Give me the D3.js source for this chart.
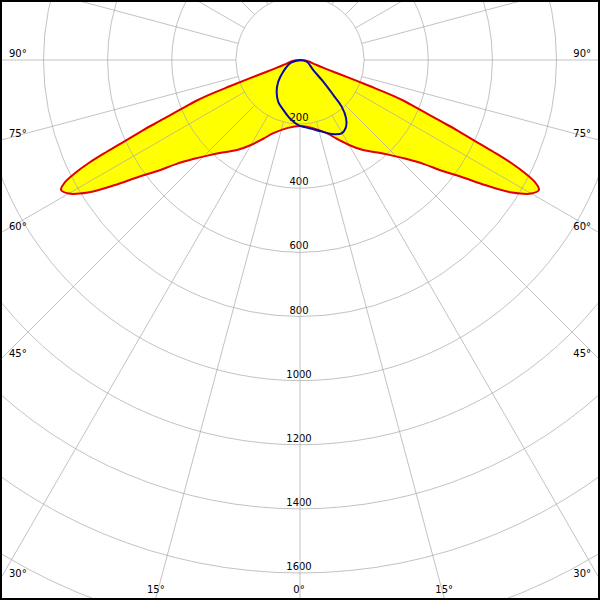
<!DOCTYPE html>
<html><head><meta charset="utf-8">
<script src="https://cdn.jsdelivr.net/npm/d3@7"></script>
<style>html,body{margin:0;padding:0;background:#fff}svg{display:block}</style>
</head><body>
<svg id="c" width="600" height="600"></svg>
<script>
// C0-C180 plane (red), angle from nadir in degrees, intensity in cd (mirrored both sides)
const redAngles = [0,10,20,25,30,35,40,43.5,47,50,52,54,56,58,60,61.5,62.5,63.3,64,64.6,65.2,65.9,66.5,67.5,68.5,69,69.5,70,70.5,71.5,74,80,85,90];
const redValues = [206,215,243,271,306,343,377,409,452,505,561,618,699,780,833,848,827,786,733,667,599,537,477,405,349,312,234,172,119,78,50,28,12,0];
// C90-C270 plane (blue), signed angle (negative = left side)
const blueAngles = [-90,-71.7,-55,-45,-36.3,-27.5,-18.5,-9.7,-1.5,5.7,15.7,23.2,29.6,34.6,38.3,41.8,43.6,47,53,75.8,90];
const blueValues = [0,33,64,96,123,147,164,185,203,212,230,251,263,253,232,195,151,99,52,22,0];
// grid
const ringValues = [200,400,600,800,1000,1200,1400,1600,1800];
const ringLabels = ["200","400","600","800","1000","1200","1400","1600"];
const sideAngles = [90,75,60,45,30];
const bottomAngles = [15,0];

const W = 600, H = 600, cx = 300, cy = 60;
const svg = d3.select("#c");
const r = d3.scaleLinear().domain([0,1600]).range([0,513]);
const rad = d => d*Math.PI/180;

svg.append("rect").attr("width",W).attr("height",H).attr("fill","#fff");
const g = svg.append("g").attr("transform",`translate(${cx},${cy})`);

// build polygon points
const redPts = [];
for (let i = redAngles.length-1; i >= 0; i--) redPts.push([-redAngles[i], redValues[i]]);
for (let i = 1; i < redAngles.length; i++) redPts.push([redAngles[i], redValues[i]]);
const bluePts = blueAngles.map((a,i)=>[a, blueValues[i]]);

const line = d3.lineRadial()
  .angle(d => Math.PI - rad(d[0]))
  .radius(d => r(d[1]))
  .curve(d3.curveCatmullRom.alpha(0.5));

g.append("path").attr("d", line(redPts)+"Z").attr("fill","#ffff00");
g.append("path").attr("d", line(bluePts)+"Z").attr("fill","#ffff00");

// ring labels (under grid)
g.selectAll("text.rl").data(ringLabels).enter().append("text")
  .attr("x",-1).attr("y",d=>r(+d)-3)
  .attr("text-anchor","middle")
  .attr("font-family","DejaVu Sans").attr("font-size",10).attr("fill","#000")
  .text(d=>d);

// side angle labels
const edgeY = a => cy + (a===90 ? 0 : cx/Math.tan(rad(a)));
sideAngles.forEach(a=>{
  svg.append("text").attr("x",9).attr("y",edgeY(a)-3)
    .attr("font-family","DejaVu Sans").attr("font-size",10).text(a+"°");
  svg.append("text").attr("x",591).attr("y",edgeY(a)-3).attr("text-anchor","end")
    .attr("font-family","DejaVu Sans").attr("font-size",10).text(a+"°");
});
bottomAngles.forEach(a=>{
  const dx = (598-cy)*Math.tan(rad(a));
  const xs = a===0 ? [cx-1] : [cx-dx, cx+dx];
  xs.forEach(x=>svg.append("text").attr("x",x).attr("y",593).attr("text-anchor","middle")
    .attr("font-family","DejaVu Sans").attr("font-size",10).text(a+"°"));
});

// grid
const grid = g.append("g").attr("stroke","#a8a8a8").attr("stroke-opacity",0.7).attr("fill","none").attr("stroke-width",1);
ringValues.forEach(v=>grid.append("circle").attr("r",r(v)));
d3.range(0,360,15).forEach(a=>{
  const t = rad(a);
  grid.append("line")
    .attr("x1",r(200)*Math.sin(t)).attr("y1",r(200)*Math.cos(t))
    .attr("x2",1000*Math.sin(t)).attr("y2",1000*Math.cos(t));
});

// curves
g.append("path").attr("d", line(redPts)+"Z").attr("fill","none").attr("stroke","#e00000").attr("stroke-width",2).attr("stroke-linejoin","round");
g.append("path").attr("d", line(bluePts)+"Z").attr("fill","none").attr("stroke","#0a0aa0").attr("stroke-width",2).attr("stroke-linejoin","round");

// frame
svg.append("rect").attr("x",1).attr("y",1).attr("width",598).attr("height",598)
  .attr("fill","none").attr("stroke","#000").attr("stroke-width",2);
</script>
</body></html>
